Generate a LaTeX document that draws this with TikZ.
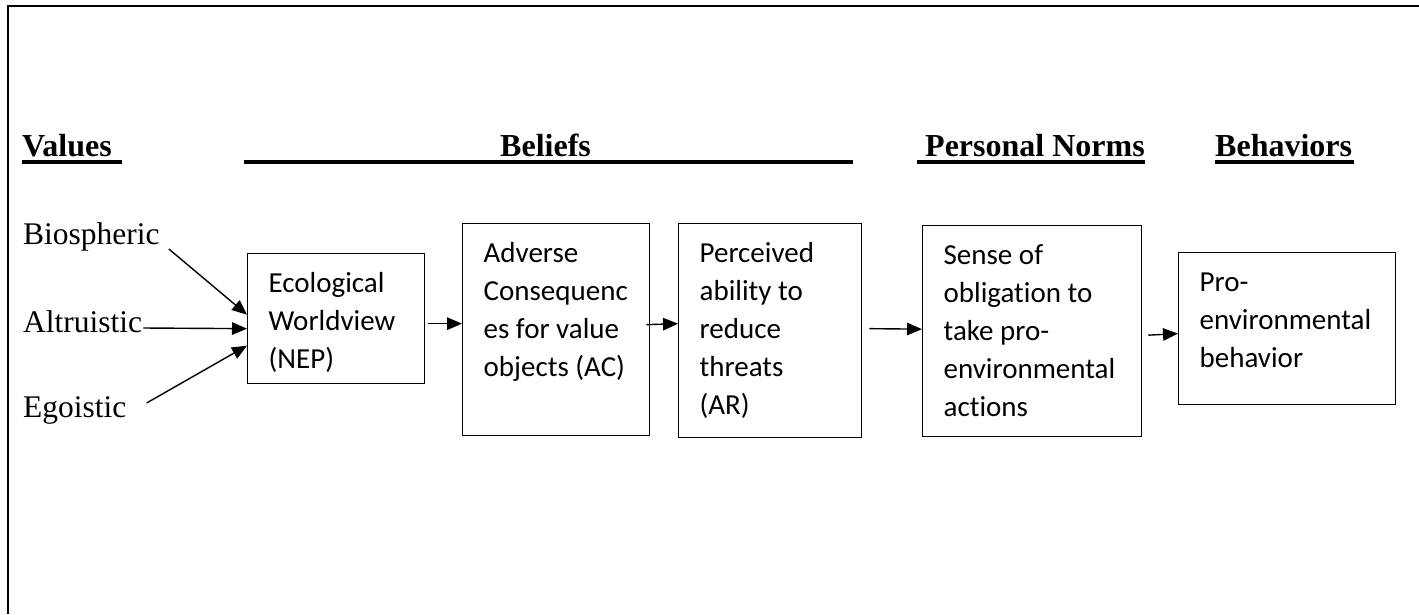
\documentclass[tikz,border=0pt]{standalone}
\usepackage{fontspec}
\setmainfont{Liberation Serif}
\newfontfamily\boxfont[Ligatures=NoCommon]{Carlito}
\usetikzlibrary{arrows.meta}

% top aligned text inside a fixed box (width, height in pt)
\newcommand{\inbox}[3]{\parbox[c][#2pt][t]{#1pt}{\raggedright\leftskip=21pt\rule{0pt}{39pt}#3}}

\tikzset{
  box/.style={draw, line width=1.3pt, inner sep=0pt, anchor=north west,
    font=\boxfont\fontsize{29}{38}\selectfont},
  lab/.style={inner sep=0pt, anchor=base west, font=\fontsize{31.5}{38}\selectfont},
  head/.style={inner sep=0pt, anchor=base west, font=\fontsize{32}{38}\selectfont\bfseries},
  uline/.style={line width=3.5pt},
  arr/.style={line width=1.4pt, -{Triangle[length=15pt,width=12.5pt]}},
}

\begin{document}
\begin{tikzpicture}[x=1pt, y=-1pt, line cap=butt, line join=miter]
  \useasboundingbox (0,0) rectangle (1419,614);
  % frame
  \draw[line width=2.2pt] (8,614) -- (8,6) -- (1419,6);

  % column heads
  \node[head] (values) at (22,156) {Values};
  \node[head] (beliefs) at (500,156) {Beliefs};
  \node[head] (norms) at (925,156) {Personal Norms};
  \node[head] (behav) at (1215,156) {Behaviors};
  \draw[uline] (22,162) -- (122,162);
  \draw[uline] (244,162) -- (853,162);
  \draw[uline] (917,162) -- (1145,162);
  \draw[uline] (1215,162) -- (1354,162);

  % values
  \node[lab] (bio) at (23,244) {Biospheric};
  \node[lab] (alt) at (23,332) {Altruistic};
  \node[lab] (ego) at (23,417) {Egoistic};

  % boxes
  \node[box] (nep) at (247,253) {\inbox{177}{130}{Ecological\\Worldview\\(NEP)}};
  \node[box] (ac) at (462,223) {\inbox{187}{212}{Adverse\\Consequenc\\es for value\\objects (AC)}};
  \node[box] (ar) at (678,223) {\inbox{183}{214}{Perceived\\ability to\\reduce\\threats\\(AR)}};
  \node[box] (so) at (922,225) {\inbox{219}{211}{Sense of\\obligation to\\take pro-\\environmental\\actions}};
  \node[box] (peb) at (1178,252) {\inbox{217}{152}{Pro-\\environmental\\behavior}};

  % arrows
  \draw[arr] ([shift={(9,5)}]bio.base east) -- ([shift={(0,-4)}]nep.west);
  \draw[arr] ([shift={(1,-4)}]alt.base east) -- ([shift={(0,10)}]nep.west);
  \draw[arr] ([shift={(20,-14)}]ego.base east) -- ([shift={(0,27)}]nep.west);
  \draw[arr] ([shift={(3,5)}]nep.east) -- ([shift={(0,-6)}]ac.west);
  \draw[arr] ([shift={(-4,-5)}]ac.east) -- ([shift={(0,-7)}]ar.west);
  \draw[arr] ([shift={(7,-2)}]ar.east) -- ([shift={(0,-2)}]so.west);
  \draw[arr] ([shift={(6,4)}]so.east) -- ([shift={(0,5)}]peb.west);
\end{tikzpicture}
\end{document}
